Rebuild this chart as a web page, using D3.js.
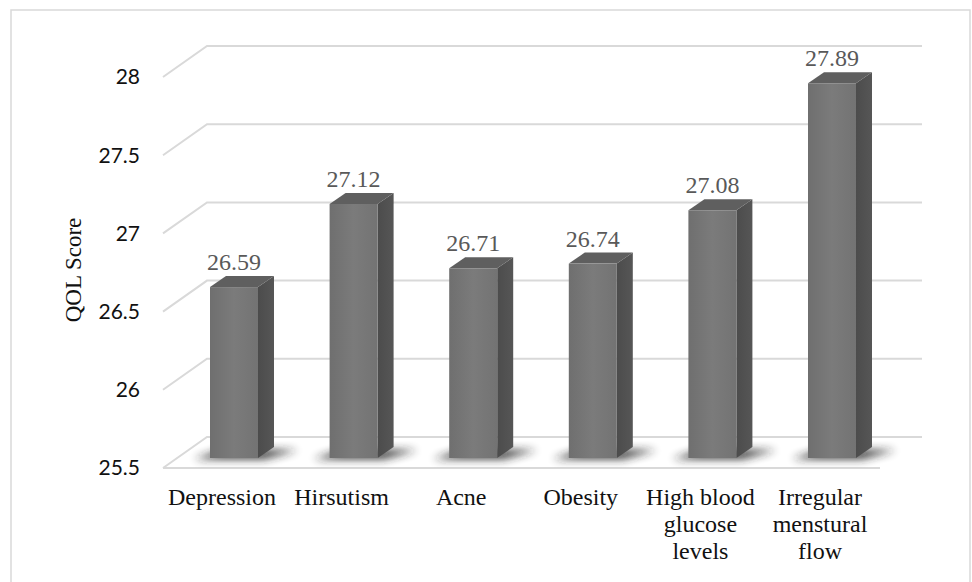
<!DOCTYPE html>
<html>
<head>
<meta charset="utf-8">
<script src="https://cdn.jsdelivr.net/npm/d3@7"></script>
<style>
  html, body { margin: 0; padding: 0; background: #fff; }
  svg { display: block; }
</style>
</head>
<body>
<svg id="chart" width="972" height="582"></svg>
<script>
// QOL score by symptom
const categories = ["Depression", "Hirsutism", "Acne", "Obesity", "High blood glucose levels", "Irregular menstural flow"];
const categoryLines = [["Depression"], ["Hirsutism"], ["Acne"], ["Obesity"], ["High blood", "glucose", "levels"], ["Irregular", "menstural", "flow"]];
const scores = [26.59, 27.12, 26.71, 26.74, 27.08, 27.89];
const yTicks = [25.5, 26, 26.5, 27, 27.5, 28];
const yTickLabels = ["25.5", "26", "26.5", "27", "27.5", "28"];

const svg = d3.select("#chart");

// 3D projection parameters
const wallDX = 44, wallDY = 31;     // from front edge of floor to back wall
const barDX = 16, barDY = -11;      // depth of each bar
const barW = 48;

// Scales: back wall, and the plane the bar fronts stand in
const yWall = d3.scaleLinear().domain([25.5, 28]).range([437, 46]);
const yBar = d3.scaleLinear().domain([25.5, 28]).range([458, 66]);
const x = d3.scalePoint().domain(categories).range([234, 832]);

const wallLeft = 207, wallRight = 922, frontLeft = wallLeft - wallDX, frontRight = 880;

// outer frame
svg.append("rect")
  .attr("x", 11).attr("y", 10).attr("width", 959).attr("height", 600)
  .attr("fill", "none").attr("stroke", "#d9d9d9").attr("stroke-width", 1.5);

const defs = svg.append("defs");
const blur = defs.append("filter").attr("id", "shadowBlur")
  .attr("x", "-50%").attr("y", "-100%").attr("width", "200%").attr("height", "300%");
blur.append("feGaussianBlur").attr("stdDeviation", 4);

const frontGrad = defs.append("linearGradient").attr("id", "frontGrad")
  .attr("x1", "0").attr("x2", "1").attr("y1", "0").attr("y2", "0");
frontGrad.append("stop").attr("offset", "0").attr("stop-color", "#6f6f6f");
frontGrad.append("stop").attr("offset", "0.5").attr("stop-color", "#7b7b7b");
frontGrad.append("stop").attr("offset", "1").attr("stop-color", "#737373");

const sideGrad = defs.append("linearGradient").attr("id", "sideGrad")
  .attr("x1", "0").attr("x2", "1").attr("y1", "0").attr("y2", "0");
sideGrad.append("stop").attr("offset", "0").attr("stop-color", "#4c4c4c");
sideGrad.append("stop").attr("offset", "1").attr("stop-color", "#565656");

// gridlines: left diagonal on the side wall and horizontal on the back wall
const grid = svg.append("g").attr("stroke", "#d9d9d9").attr("stroke-width", 2).attr("fill", "none");
yTicks.forEach(t => {
  const yb = yWall(t);
  grid.append("polyline")
    .attr("points", `${frontLeft},${yb + wallDY} ${wallLeft},${yb} ${wallRight},${yb}`);
});
// floor front edge
grid.append("line")
  .attr("x1", frontLeft).attr("y1", yWall(25.5) + wallDY)
  .attr("x2", frontRight).attr("y2", yWall(25.5) + wallDY);

// y tick labels
svg.append("g").selectAll("text").data(yTicks).join("text")
  .attr("x", 140)
  .attr("y", d => yWall(d) + wallDY)
  .attr("dy", "0.35em")
  .attr("text-anchor", "end")
  .attr("font-family", "Lato, 'Liberation Sans', sans-serif")
  .attr("font-size", 21)
  .attr("fill", "#111")
  .text((d, i) => yTickLabels[i]);

// axis title
svg.append("text")
  .attr("transform", "translate(81,270) rotate(-90)")
  .attr("text-anchor", "middle")
  .attr("font-family", "'Liberation Serif', 'Times New Roman', serif")
  .attr("font-size", 23)
  .attr("fill", "#111")
  .text("QOL Score");

// bars
const bars = svg.append("g").selectAll("g").data(categories).join("g");
const base = yBar(25.5);

bars.append("polygon")
  .attr("points", d => {
    const x0 = x(d) - barW / 2, x1 = x(d) + barW / 2;
    return [[x0 - 16, base + 1], [x1 + 6, base + 1], [x1 + barDX + 24, base + barDY + 3], [x0 + barDX - 4, base + barDY + 3]]
      .map(p => p.join(",")).join(" ");
  })
  .attr("fill", "#222").attr("opacity", 0.9)
  .attr("filter", "url(#shadowBlur)");

// side face
bars.append("polygon")
  .attr("points", (d, i) => {
    const x1 = x(d) + barW / 2, yt = yBar(scores[i]);
    return [[x1, base], [x1 + barDX, base + barDY], [x1 + barDX, yt + barDY], [x1, yt]]
      .map(p => p.join(",")).join(" ");
  })
  .attr("fill", "url(#sideGrad)");

// top face
bars.append("polygon")
  .attr("points", (d, i) => {
    const x0 = x(d) - barW / 2, x1 = x(d) + barW / 2, yt = yBar(scores[i]);
    return [[x0, yt], [x1, yt], [x1 + barDX, yt + barDY], [x0 + barDX, yt + barDY]]
      .map(p => p.join(",")).join(" ");
  })
  .attr("fill", "#5f5f5f");

// front face
bars.append("rect")
  .attr("x", d => x(d) - barW / 2)
  .attr("y", (d, i) => yBar(scores[i]))
  .attr("width", barW)
  .attr("height", (d, i) => base - yBar(scores[i]))
  .attr("fill", "url(#frontGrad)");

// value labels
bars.append("text")
  .attr("x", d => x(d))
  .attr("y", (d, i) => yBar(scores[i]) - 17)
  .attr("text-anchor", "middle")
  .attr("font-family", "'Liberation Serif', 'Times New Roman', serif")
  .attr("font-size", 24)
  .attr("fill", "#595959")
  .text((d, i) => scores[i].toFixed(2));

// category labels
const catG = svg.append("g")
  .attr("font-family", "'Liberation Serif', 'Times New Roman', serif")
  .attr("font-size", 24)
  .attr("fill", "#111")
  .attr("text-anchor", "middle");
categories.forEach((c, i) => {
  const t = catG.append("text").attr("x", x(c) - 12).attr("y", 505);
  categoryLines[i].forEach((line, j) => {
    t.append("tspan").attr("x", x(c) - 12).attr("dy", j === 0 ? 0 : 27).text(line);
  });
});
</script>
</body>
</html>
